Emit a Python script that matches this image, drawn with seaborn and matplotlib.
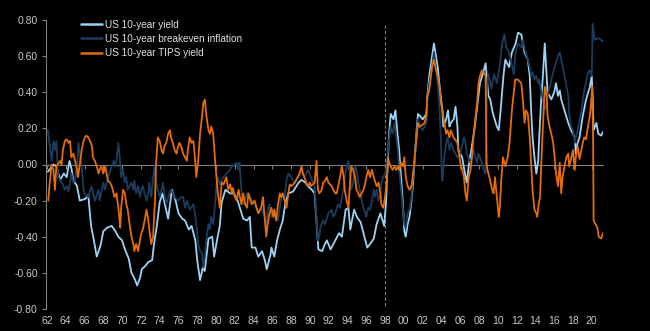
import matplotlib
matplotlib.use("Agg")
import matplotlib.pyplot as plt
import pandas as pd
import seaborn as sns

# ---------------- data ----------------
series_names = ["US 10-year yield", "US 10-year breakeven inflation", "US 10-year TIPS yield"]

yield_years = [
    1962.1, 1962.4, 1962.7, 1963.0, 1963.4, 1963.8, 1964.1, 1964.4, 1964.6, 1964.8,
    1965.2, 1965.5, 1966.1, 1966.4, 1966.7, 1967.0, 1967.3, 1967.7, 1968.0, 1968.4,
    1968.9, 1969.3, 1969.6, 1970.0, 1970.3, 1970.7, 1971.0, 1971.4, 1971.6, 1971.9,
    1972.1, 1972.5, 1972.8, 1973.2, 1973.4, 1973.7, 1974.0, 1974.3, 1974.6, 1974.9,
    1975.3, 1975.7, 1976.0, 1976.4, 1976.7, 1977.1, 1977.4, 1977.8, 1978.0, 1978.3,
    1978.6, 1978.8, 1979.2, 1979.6, 1979.8, 1980.1, 1980.4, 1980.6, 1981.0, 1981.5,
    1981.9, 1982.3, 1982.6, 1982.9, 1983.3, 1983.6, 1983.8, 1984.2, 1984.5, 1984.9,
    1985.2, 1985.4, 1985.8, 1985.9, 1986.2, 1986.5, 1986.8, 1987.1, 1987.4, 1987.7,
    1988.2, 1988.8, 1989.1, 1989.5, 1989.8, 1990.2, 1990.5, 1990.9, 1991.3, 1991.6,
    1991.8, 1992.2, 1992.7, 1993.1, 1993.4, 1993.8, 1994.1, 1994.3, 1994.7, 1995.0,
    1995.4, 1995.7, 1996.1, 1996.4, 1996.8, 1997.1, 1997.5, 1997.9, 1998.1, 1998.4,
    1998.6, 1998.9, 1999.1, 1999.35, 1999.5, 1999.7, 1999.9, 2000.05, 2000.2, 2000.4,
    2000.6, 2000.8, 2000.95, 2001.1, 2001.3, 2001.5, 2001.7, 2002.0, 2002.4, 2002.5,
    2002.7, 2003.0, 2003.2, 2003.35, 2003.6, 2003.85, 2004.1, 2004.2, 2004.5, 2004.7,
    2004.85, 2005.0, 2005.3, 2005.5, 2005.7, 2005.8, 2006.2, 2006.5, 2006.7, 2006.9,
    2007.3, 2007.5, 2007.8, 2008.1, 2008.5, 2008.7, 2008.85, 2009.0, 2009.2, 2009.4,
    2009.55, 2009.9, 2010.1, 2010.3, 2010.6, 2010.8, 2011.2, 2011.5, 2011.9, 2012.15,
    2012.5, 2012.85, 2013.2, 2013.4, 2013.55, 2013.7, 2013.9, 2014.1, 2014.3, 2014.4,
    2014.6, 2014.8, 2015.0, 2015.2, 2015.3, 2015.7, 2016.0, 2016.2, 2016.4, 2016.6,
    2016.75, 2017.1, 2017.5, 2017.8, 2018.2, 2018.3, 2018.5, 2018.7, 2019.05, 2019.4,
    2019.8, 2020.0, 2020.1, 2020.2, 2020.5, 2020.7, 2021.0, 2021.2]
yield_vals = [
    -0.04, -0.02, 0.00, -0.01, -0.085, -0.05, -0.07, 0.02, -0.02, -0.085,
    -0.12, -0.20, -0.19, -0.17, -0.34, -0.42, -0.51, -0.45, -0.37, -0.35,
    -0.34, -0.37, -0.40, -0.42, -0.47, -0.52, -0.60, -0.64, -0.67, -0.63,
    -0.58, -0.56, -0.54, -0.53, -0.44, -0.34, -0.21, -0.16, -0.23, -0.30,
    -0.14, -0.20, -0.27, -0.30, -0.31, -0.36, -0.34, -0.42, -0.53, -0.64,
    -0.57, -0.59, -0.41, -0.40, -0.51, -0.42, -0.34, -0.21, -0.14, -0.16,
    -0.16, -0.20, -0.25, -0.30, -0.31, -0.29, -0.46, -0.46, -0.51, -0.48,
    -0.53, -0.58, -0.50, -0.46, -0.51, -0.42, -0.36, -0.31, -0.21, -0.16,
    -0.15, -0.10, -0.085, -0.10, -0.12, -0.14, -0.16, -0.47, -0.48, -0.44,
    -0.42, -0.47, -0.42, -0.38, -0.40, -0.25, -0.24, -0.36, -0.25, -0.29,
    -0.32, -0.38, -0.46, -0.44, -0.41, -0.33, -0.27, -0.34, -0.21, 0.15,
    0.28, 0.25, 0.30, 0.15, 0.08, -0.07, -0.22, -0.37, -0.40, -0.33,
    -0.29, -0.20, -0.12, -0.01, 0.15, 0.28, 0.27, 0.25, 0.28, 0.38,
    0.49, 0.60, 0.67, 0.62, 0.54, 0.41, 0.30, 0.21, 0.25, 0.30,
    0.21, 0.23, 0.25, 0.32, 0.21, 0.08, 0.04, -0.05, -0.10, -0.01,
    0.12, 0.19, 0.32, 0.45, 0.52, 0.56, 0.47, 0.38, 0.36, 0.30,
    0.27, 0.21, 0.19, 0.30, 0.49, 0.58, 0.54, 0.62, 0.67, 0.73,
    0.72, 0.62, 0.58, 0.49, 0.30, 0.15, 0.04, -0.05, 0.02, 0.14,
    0.34, 0.49, 0.67, 0.49, 0.40, 0.36, 0.40, 0.45, 0.38, 0.41,
    0.36, 0.30, 0.23, 0.19, 0.15, 0.06, 0.12, 0.15, 0.27, 0.36,
    0.43, 0.49, 0.38, 0.19, 0.23, 0.17, 0.16, 0.18]

bei_years = [
    1962.1, 1962.5, 1962.7, 1962.85, 1963.0, 1963.2, 1963.6, 1963.9, 1964.1, 1964.3,
    1964.6, 1964.8, 1965.0, 1965.2, 1965.35, 1965.5, 1965.7, 1965.9, 1966.0, 1966.4,
    1966.75, 1967.1, 1967.5, 1967.6, 1968.0, 1968.2, 1968.5, 1968.9, 1969.1, 1969.25,
    1969.45, 1969.6, 1969.75, 1969.9, 1970.1, 1970.3, 1970.45, 1970.6, 1970.8, 1971.0,
    1971.2, 1971.3, 1971.5, 1971.7, 1971.9, 1972.05, 1972.2, 1972.4, 1972.6, 1972.8,
    1972.9, 1973.1, 1973.3, 1973.5, 1973.6, 1973.8, 1974.0, 1974.2, 1974.35, 1974.5,
    1974.7, 1974.9, 1975.2, 1975.6, 1975.95, 1976.3, 1976.5, 1976.7, 1976.9, 1977.2,
    1977.6, 1977.75, 1977.9, 1978.1, 1978.3, 1978.5, 1978.65, 1978.8, 1979.0, 1979.2,
    1979.35, 1979.5, 1979.7, 1979.9, 1980.05, 1980.2, 1980.4, 1980.8, 1981.1, 1981.5,
    1981.7, 1981.8, 1982.2, 1982.4, 1982.5, 1982.7, 1982.9, 1983.3, 1983.6, 1984.1,
    1984.5, 1984.8, 1985.2, 1985.35, 1985.5, 1985.7, 1985.9, 1986.2, 1986.6, 1986.8,
    1986.95, 1987.3, 1987.5, 1987.7, 1988.0, 1988.4, 1988.7, 1989.1, 1989.4, 1989.8,
    1990.1, 1990.5, 1990.7, 1990.85, 1991.0, 1991.1, 1991.25, 1991.4, 1991.6, 1991.96,
    1992.3, 1992.5, 1992.7, 1993.0, 1993.2, 1993.4, 1993.6, 1993.7, 1993.9, 1994.1,
    1994.3, 1994.4, 1994.6, 1994.8, 1994.95, 1995.15, 1995.3, 1995.5, 1995.7, 1995.9,
    1996.0, 1996.2, 1996.4, 1996.6, 1996.8, 1996.9, 1997.1, 1997.3, 1997.5, 1997.6,
    1997.8, 1998.0, 1998.2, 1998.3, 1998.45, 1998.6, 1998.8, 1999.0, 1999.2, 1999.35,
    1999.5, 1999.7, 1999.9, 2000.05, 2000.2, 2000.4, 2000.6, 2000.8, 2000.9, 2001.1,
    2001.3, 2001.5, 2001.7, 2002.0, 2002.4, 2002.5, 2002.7, 2003.0, 2003.2, 2003.35,
    2003.6, 2003.8, 2003.95, 2004.05, 2004.1, 2004.3, 2004.5, 2004.65, 2004.85, 2005.0,
    2005.3, 2005.7, 2006.0, 2006.4, 2006.55, 2006.7, 2007.1, 2007.4, 2007.6, 2007.8,
    2007.95, 2008.1, 2008.3, 2008.5, 2008.7, 2008.85, 2009.0, 2009.3, 2009.6, 2009.9,
    2010.2, 2010.5, 2010.7, 2010.9, 2011.2, 2011.5, 2011.7, 2011.9, 2012.15, 2012.5,
    2012.7, 2012.85, 2013.2, 2013.4, 2013.55, 2013.7, 2013.9, 2014.1, 2014.3, 2014.4,
    2014.6, 2014.8, 2015.0, 2015.2, 2015.3, 2015.7, 2016.05, 2016.4, 2016.6, 2016.75,
    2017.1, 2017.5, 2017.6, 2017.8, 2018.0, 2018.2, 2018.3, 2018.5, 2018.9, 2019.2,
    2019.6, 2019.8, 2020.0, 2020.1, 2020.3, 2020.65, 2021.0, 2021.2]
bei_vals = [
    0.19, 0.02, 0.13, 0.08, 0.13, -0.07, -0.10, -0.14, -0.12, -0.15,
    -0.05, -0.10, -0.09, -0.01, 0.12, 0.06, -0.01, -0.14, -0.16, -0.18,
    -0.12, -0.20, -0.14, -0.20, -0.10, -0.14, -0.07, -0.01, 0.02, -0.01,
    0.04, 0.12, 0.04, -0.07, -0.03, -0.10, -0.07, -0.14, -0.12, -0.10,
    -0.14, -0.09, -0.16, -0.12, -0.18, -0.14, -0.12, -0.16, -0.20, -0.16,
    -0.10, -0.18, -0.07, 0.00, -0.10, -0.14, -0.18, -0.14, -0.10, -0.16,
    -0.22, -0.18, -0.14, -0.18, -0.20, -0.18, -0.18, -0.24, -0.20, -0.25,
    -0.22, -0.27, -0.33, -0.44, -0.48, -0.49, -0.57, -0.51, -0.40, -0.33,
    -0.36, -0.29, -0.33, -0.22, -0.11, -0.07, -0.11, -0.07, -0.05, -0.03,
    0.00, -0.01, 0.01, -0.03, 0.01, -0.14, -0.22, -0.16, -0.18, -0.22,
    -0.27, -0.24, -0.29, -0.36, -0.25, -0.22, -0.29, -0.25, -0.31, -0.24,
    -0.18, -0.18, -0.09, -0.05, -0.07, -0.10, -0.07, -0.03, -0.07, -0.03,
    -0.07, -0.12, -0.30, -0.42, -0.40, -0.35, -0.33, -0.31, -0.33, -0.27,
    -0.25, -0.29, -0.27, -0.22, -0.24, -0.18, -0.12, -0.07, -0.01, 0.02,
    -0.07, -0.14, -0.10, -0.01, -0.03, -0.10, -0.14, -0.20, -0.24, -0.27,
    -0.29, -0.24, -0.25, -0.20, -0.14, -0.18, -0.14, -0.20, -0.16, -0.10,
    -0.07, -0.05, -0.01, 0.08, 0.15, 0.21, 0.17, 0.23, 0.15, 0.08,
    -0.03, -0.14, -0.25, -0.33, -0.35, -0.27, -0.25, -0.18, -0.10, -0.01,
    0.12, 0.25, 0.21, 0.19, 0.23, 0.36, 0.45, 0.54, 0.62, 0.56,
    0.45, 0.30, 0.12, -0.07, -0.09, 0.04, 0.12, 0.15, 0.08, 0.12,
    0.08, 0.04, 0.06, 0.15, 0.12, 0.06, 0.01, 0.08, 0.04, 0.01,
    0.06, 0.04, 0.01, -0.03, -0.05, 0.45, 0.50, 0.42, 0.50, 0.45,
    0.55, 0.68, 0.72, 0.65, 0.62, 0.55, 0.50, 0.62, 0.67, 0.65,
    0.69, 0.64, 0.58, 0.54, 0.49, 0.51, 0.47, 0.49, 0.45, 0.47,
    0.41, 0.36, 0.30, 0.34, 0.38, 0.47, 0.54, 0.60, 0.62, 0.58,
    0.49, 0.38, 0.28, 0.21, 0.19, 0.12, 0.15, 0.19, 0.30, 0.41,
    0.51, 0.52, 0.49, 0.78, 0.69, 0.70, 0.69, 0.68]

tips_years = [
    1962.14, 1962.3, 1962.5, 1962.7, 1962.85, 1963.0, 1963.4, 1963.55, 1963.7, 1963.9,
    1964.1, 1964.3, 1964.45, 1964.6, 1964.8, 1965.0, 1965.2, 1965.3, 1965.5, 1965.7,
    1965.9, 1966.05, 1966.2, 1966.4, 1966.6, 1966.8, 1966.9, 1967.1, 1967.3, 1967.5,
    1967.6, 1967.8, 1968.0, 1968.2, 1968.35, 1968.5, 1968.7, 1968.9, 1969.1, 1969.2,
    1969.4, 1969.6, 1969.7, 1969.8, 1969.9, 1970.1, 1970.3, 1970.45, 1970.6, 1970.8,
    1971.0, 1971.2, 1971.3, 1971.5, 1971.7, 1971.9, 1972.05, 1972.2, 1972.4, 1972.6,
    1972.8, 1972.9, 1973.1, 1973.3, 1973.5, 1973.6, 1973.8, 1974.0, 1974.2, 1974.35,
    1974.5, 1974.7, 1974.9, 1975.1, 1975.2, 1975.4, 1975.6, 1975.8, 1975.95, 1976.1,
    1976.3, 1976.5, 1976.9, 1977.0, 1977.2, 1977.4, 1977.6, 1977.75, 1977.9, 1978.1,
    1978.3, 1978.5, 1978.65, 1978.8, 1979.0, 1979.2, 1979.35, 1979.5, 1979.7, 1979.9,
    1980.05, 1980.2, 1980.4, 1980.6, 1980.8, 1981.1, 1981.3, 1981.5, 1981.7, 1981.8,
    1982.0, 1982.2, 1982.4, 1982.55, 1982.7, 1982.9, 1983.1, 1983.3, 1983.45, 1983.8,
    1984.1, 1984.5, 1984.8, 1985.0, 1985.2, 1985.35, 1985.5, 1985.7, 1985.9, 1986.1,
    1986.2, 1986.4, 1986.6, 1986.8, 1986.95, 1987.1, 1987.3, 1987.5, 1987.7, 1987.85,
    1988.0, 1988.4, 1988.7, 1988.9, 1989.1, 1989.25, 1989.4, 1989.6, 1989.8, 1989.97,
    1990.1, 1990.5, 1990.7, 1990.85, 1991.0, 1991.25, 1991.4, 1991.6, 1991.8, 1991.96,
    1992.3, 1992.5, 1992.7, 1992.85, 1993.0, 1993.2, 1993.4, 1993.6, 1993.7, 1993.9,
    1994.1, 1994.3, 1994.4, 1994.6, 1994.8, 1994.95, 1995.15, 1995.3, 1995.5, 1995.7,
    1995.9, 1996.0, 1996.2, 1996.4, 1996.6, 1996.8, 1996.9, 1997.1, 1997.3, 1997.5,
    1997.6, 1997.8, 1998.0, 1998.2, 1998.3, 1998.45, 1998.6, 1998.8, 1999.0, 1999.2,
    1999.35, 1999.5, 1999.7, 1999.9, 2000.05, 2000.2, 2000.4, 2000.6, 2000.8, 2000.9,
    2001.1, 2001.3, 2001.5, 2001.65, 2002.0, 2002.2, 2002.4, 2002.5, 2002.7, 2003.0,
    2003.2, 2003.35, 2003.6, 2003.8, 2003.95, 2004.1, 2004.3, 2004.5, 2004.65, 2004.85,
    2005.0, 2005.3, 2005.7, 2006.0, 2006.4, 2006.55, 2006.7, 2006.9, 2007.1, 2007.25,
    2007.4, 2007.6, 2007.8, 2007.95, 2008.1, 2008.3, 2008.5, 2008.7, 2008.8, 2008.9,
    2009.1, 2009.4, 2009.55, 2009.7, 2009.9, 2010.1, 2010.2, 2010.35, 2010.55, 2010.8,
    2011.05, 2011.25, 2011.5, 2011.7, 2011.85, 2012.15, 2012.5, 2012.7, 2012.85, 2013.0,
    2013.2, 2013.4, 2013.55, 2013.7, 2013.9, 2014.1, 2014.2, 2014.35, 2014.5, 2014.6,
    2014.8, 2015.0, 2015.2, 2015.3, 2015.5, 2015.7, 2015.9, 2016.05, 2016.2, 2016.4,
    2016.6, 2016.75, 2016.9, 2017.1, 2017.3, 2017.5, 2017.6, 2017.8, 2018.0, 2018.2,
    2018.3, 2018.5, 2018.7, 2018.9, 2019.05, 2019.2, 2019.4, 2019.6, 2019.8, 2019.9,
    2020.05, 2020.15, 2020.2, 2020.4, 2020.6, 2020.75, 2021.0, 2021.2]
tips_vals = [
    -0.20, -0.10, 0.00, -0.03, -0.14, -0.01, 0.02, 0.00, 0.08, 0.13,
    0.14, 0.12, 0.13, 0.04, 0.06, 0.02, -0.03, -0.07, 0.00, 0.08,
    0.13, 0.15, 0.16, 0.15, 0.13, 0.10, 0.04, 0.02, -0.01, -0.05,
    -0.03, -0.01, -0.05, -0.01, -0.05, -0.09, -0.10, -0.12, -0.16, -0.18,
    -0.16, -0.24, -0.29, -0.35, -0.24, -0.14, -0.16, -0.22, -0.25, -0.33,
    -0.40, -0.44, -0.48, -0.44, -0.48, -0.42, -0.38, -0.36, -0.31, -0.25,
    -0.31, -0.36, -0.44, -0.40, -0.20, -0.01, 0.15, 0.13, 0.08, 0.06,
    0.10, 0.12, 0.17, 0.19, 0.15, 0.12, 0.08, 0.06, 0.10, 0.12,
    0.10, 0.06, 0.02, 0.08, 0.15, 0.12, 0.13, 0.04, -0.07, 0.02,
    0.17, 0.26, 0.34, 0.36, 0.26, 0.19, 0.17, 0.21, 0.17, 0.02,
    -0.07, -0.16, -0.24, -0.10, -0.11, -0.07, -0.14, -0.11, -0.16, -0.13,
    -0.18, -0.20, -0.14, -0.18, -0.22, -0.16, -0.22, -0.24, -0.16, -0.22,
    -0.20, -0.27, -0.24, -0.18, -0.31, -0.40, -0.33, -0.27, -0.24, -0.29,
    -0.25, -0.31, -0.22, -0.16, -0.18, -0.16, -0.20, -0.24, -0.16, -0.11,
    -0.12, -0.10, -0.07, -0.05, -0.01, -0.05, -0.07, -0.10, -0.12, -0.10,
    -0.12, -0.10, 0.02, -0.14, -0.16, -0.14, -0.10, -0.09, -0.07, -0.10,
    -0.12, -0.14, -0.16, -0.16, -0.12, -0.07, -0.01, -0.07, -0.14, -0.20,
    -0.24, -0.07, -0.01, -0.03, -0.07, -0.14, -0.16, -0.18, -0.16, -0.14,
    -0.10, -0.07, -0.03, -0.07, -0.03, -0.07, -0.09, -0.12, -0.10, -0.16,
    -0.22, -0.24, -0.18, -0.08, 0.04, 0.01, -0.01, -0.03, -0.01, -0.03,
    -0.01, -0.03, 0.01, -0.01, 0.04, -0.07, -0.12, -0.14, -0.12, -0.09,
    0.01, 0.12, 0.23, 0.21, 0.22, 0.23, 0.27, 0.38, 0.41, 0.54,
    0.58, 0.54, 0.49, 0.43, 0.34, 0.30, 0.23, 0.17, 0.19, 0.15,
    0.19, 0.15, 0.12, 0.01, -0.07, -0.16, -0.20, -0.07, -0.03, 0.04,
    0.15, 0.25, 0.34, 0.45, 0.49, 0.52, 0.51, 0.49, 0.01, -0.03,
    -0.07, -0.14, -0.16, -0.07, -0.18, -0.29, -0.25, -0.10, 0.04, -0.01,
    0.04, 0.12, 0.30, 0.40, 0.47, 0.47, 0.45, 0.34, 0.23, 0.30,
    0.28, 0.15, 0.01, -0.14, -0.25, -0.27, -0.29, -0.22, -0.18, -0.03,
    0.21, 0.43, 0.38, 0.27, 0.21, 0.17, 0.12, 0.04, -0.05, -0.12,
    0.01, -0.16, -0.07, -0.01, 0.04, 0.06, -0.01, 0.03, 0.08, -0.03,
    0.04, 0.10, 0.03, 0.08, 0.12, 0.15, 0.14, 0.21, 0.27, 0.32,
    0.43, 0.12, -0.31, -0.33, -0.35, -0.40, -0.41, -0.38]

tick_years = list(range(1962, 2021, 2))
tick_labels = [f"{y % 100:02d}" for y in tick_years]
y_ticks = [-0.8, -0.6, -0.4, -0.2, 0.0, 0.2, 0.4, 0.6, 0.8]
split_year = 1998

assert len(yield_years) == len(yield_vals)
assert len(bei_years) == len(bei_vals)
assert len(tips_years) == len(tips_vals)

# ---------------- style ----------------
colors = ["#9dd3f4", "#1b3c5c", "#e46c0a"]
text_color = "#c8c8c8"
axis_color = "#7f7f7f"

sns.set_theme(style="white")
plt.rcParams["font.family"] = ["Liberation Sans", "DejaVu Sans"]

df = pd.concat([
    pd.DataFrame({"year": yield_years, "value": yield_vals, "series": series_names[0]}),
    pd.DataFrame({"year": bei_years, "value": bei_vals, "series": series_names[1]}),
    pd.DataFrame({"year": tips_years, "value": tips_vals, "series": series_names[2]}),
], ignore_index=True)

fig = plt.figure(figsize=(6.5, 3.31), dpi=100, facecolor="black")
ax = fig.add_axes([46 / 650, 1 - 309 / 331, (603 - 46) / 650, 289 / 331])
ax.set_facecolor("black")

sns.lineplot(data=df, x="year", y="value", hue="series", hue_order=series_names,
             palette=colors, estimator=None, sort=False, linewidth=1.3, ax=ax)

ax.set_xlim(1961.9, 2021.2)
ax.set_ylim(-0.8, 0.8)
ax.set_xlabel("")
ax.set_ylabel("")

# dashed separator
ax.axvline(split_year, ymin=0.01, ymax=0.99, color=axis_color, linestyle=(0, (3, 2)),
           linewidth=0.8, zorder=1)

# spines
for s in ["top", "right"]:
    ax.spines[s].set_visible(False)
ax.spines["left"].set_color(axis_color)
ax.spines["left"].set_linewidth(0.8)
ax.spines["bottom"].set_position(("data", 0))
ax.spines["bottom"].set_color(axis_color)
ax.spines["bottom"].set_linewidth(0.8)
ax.spines["bottom"].set_zorder(1)

ax.set_yticks(y_ticks)
ax.set_yticklabels([f"{v:.2f}" for v in y_ticks])
ax.tick_params(axis="y", direction="out", length=3, width=0.8, color=axis_color,
               labelcolor=text_color, labelsize=7.5, pad=3, left=True)
ax.set_xticks(tick_years)
ax.tick_params(axis="x", direction="out", length=3, width=0.8, color=axis_color,
               labelbottom=False, bottom=True)

sec = ax.secondary_xaxis("bottom")
sec.set_xticks(tick_years, tick_labels)
sec.tick_params(length=0, labelcolor=text_color, labelsize=7.5, pad=5)
sec.spines["bottom"].set_visible(False)

handles, labels = ax.get_legend_handles_labels()
if ax.get_legend() is not None:
    ax.get_legend().remove()
leg = ax.legend(handles, labels, loc="upper left", bbox_to_anchor=(0.05, 1.025),
                frameon=False, fontsize=7.2, labelcolor="#e0e0e0", handlelength=2.1,
                handletextpad=0.3, labelspacing=0.42, borderpad=0.2)
for h in leg.get_lines():
    h.set_linewidth(1.8)

fig.savefig("out.png", dpi=100, facecolor="black")
